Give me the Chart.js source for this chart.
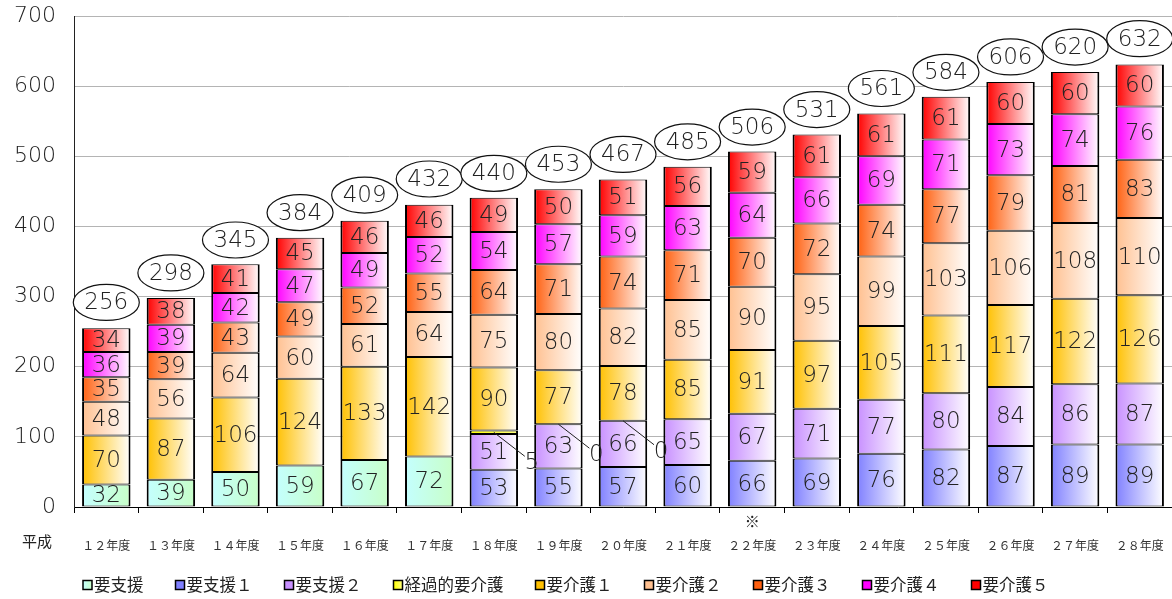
<!DOCTYPE html>
<html>
<head>
<meta charset="utf-8">
<script src="https://cdn.jsdelivr.net/npm/chart.js@4.4.0/dist/chart.umd.min.js"></script>
<style>
  html, body { margin: 0; padding: 0; background: #fff; }
  canvas { display: block; }
</style>
</head>
<body>
<canvas id="careChart" width="1172" height="599"></canvas>
<script>
// Data
const years = ['１２年度', '１３年度', '１４年度', '１５年度', '１６年度', '１７年度', '１８年度', '１９年度', '２０年度',
               '２１年度', '２２年度', '２３年度', '２４年度', '２５年度', '２６年度', '２７年度', '２８年度'];
const yTicks = [0, 100, 200, 300, 400, 500, 600, 700];

const shien   = [32, 39, 50, 59, 67, 72, null, null, null, null, null, null, null, null, null, null, null];
const shien1  = [null, null, null, null, null, null, 53, 55, 57, 60, 66, 69, 76, 82, 87, 89, 89];
const shien2  = [null, null, null, null, null, null, 51, 63, 66, 65, 67, 71, 77, 80, 84, 86, 87];
const keika   = [null, null, null, null, null, null, 5, 0, 0, null, null, null, null, null, null, null, null];
const kaigo1  = [70, 87, 106, 124, 133, 142, 90, 77, 78, 85, 91, 97, 105, 111, 117, 122, 126];
const kaigo2  = [48, 56, 64, 60, 61, 64, 75, 80, 82, 85, 90, 95, 99, 103, 106, 108, 110];
const kaigo3  = [35, 39, 43, 49, 52, 55, 64, 71, 74, 71, 70, 72, 74, 77, 79, 81, 83];
const kaigo4  = [36, 39, 42, 47, 49, 52, 54, 57, 59, 63, 64, 66, 69, 71, 73, 74, 76];
const kaigo5  = [34, 38, 41, 45, 46, 46, 49, 50, 51, 56, 59, 61, 61, 61, 60, 60, 60];
const totals  = [256, 298, 345, 384, 409, 432, 440, 453, 467, 485, 506, 531, 561, 584, 606, 620, 632];

const seriesNames = ['要支援', '要支援１', '要支援２', '経過的要介護', '要介護１', '要介護２', '要介護３', '要介護４', '要介護５'];
const seriesData = [shien, shien1, shien2, keika, kaigo1, kaigo2, kaigo3, kaigo4, kaigo5];
const seriesColors = [
    ['#c4ffff', '#c8ffc8'],
    ['#8080ff', '#ffffff'],
    ['#c890ff', '#ffffff'],
    ['#ffff00', '#ffff80'],
    ['#ffc000', '#ffffff'],
    ['#ffc090', '#ffffff'],
    ['#ff6010', '#ffffff'],
    ['#ff00ff', '#ffffff'],
    ['#ff0000', '#ffffff']
];
const KEIKA_INDEX = 3;
const BAR_RATIO = 0.75;

const numFont = '"DejaVu Sans", sans-serif';
const jpFont = '"Noto Sans CJK JP", sans-serif';

// Horizontal gradient across each bar
function barGradient(context, colors) {
    const chart = context.chart;
    const area = chart.chartArea;
    if (!area || context.dataIndex === undefined) return colors[0];
    const cx = chart.scales.x.getPixelForValue(context.dataIndex);
    const half = (area.right - area.left) / years.length * BAR_RATIO / 2;
    const g = chart.ctx.createLinearGradient(cx - half, 0, cx + half, 0);
    g.addColorStop(0, colors[0]);
    g.addColorStop(1, colors[1]);
    return g;
}

// Values inside segments, leader labels and total ellipses
const valueLabels = {
    id: 'valueLabels',
    afterDatasetsDraw(chart) {
        const ctx = chart.ctx;
        ctx.save();
        ctx.font = '200 23px ' + numFont;
        ctx.fillStyle = '#222';
        ctx.textAlign = 'center';
        ctx.textBaseline = 'middle';

        chart.data.datasets.forEach((ds, di) => {
            const meta = chart.getDatasetMeta(di);
            meta.data.forEach((bar, i) => {
                const v = ds.data[i];
                if (v === null || v === undefined) return;
                const midY = (bar.y + bar.base) / 2;
                if (di === KEIKA_INDEX) {
                    ctx.strokeStyle = '#222';
                    ctx.lineWidth = 1;
                    ctx.beginPath();
                    ctx.moveTo(bar.x, midY);
                    ctx.lineTo(bar.x + 31, midY + 24);
                    ctx.stroke();
                    ctx.fillText(String(v), bar.x + 38, midY + 31);
                    return;
                }
                ctx.fillText(String(v), bar.x, midY + 1);
            });
        });

        // totals in ellipses
        totals.forEach((t, i) => {
            const x = chart.scales.x.getPixelForValue(i);
            const y = chart.scales.y.getPixelForValue(t) - 25;
            ctx.beginPath();
            ctx.ellipse(x, y, 33, 18, 0, 0, Math.PI * 2);
            ctx.fillStyle = '#fff';
            ctx.fill();
            ctx.strokeStyle = '#111';
            ctx.lineWidth = 1.2;
            ctx.stroke();
            ctx.fillStyle = '#222';
            ctx.fillText(String(t), x, y + 1);
        });
        ctx.restore();
    }
};

// Bottom legend and extra captions
const captions = {
    id: 'captions',
    afterDraw(chart) {
        const ctx = chart.ctx;
        ctx.save();
        ctx.textBaseline = 'middle';
        ctx.fillStyle = '#222';

        ctx.font = '15px ' + jpFont;
        ctx.textAlign = 'left';
        ctx.fillText('平成', 22, 541);
        ctx.textAlign = 'center';
        ctx.fillText('※', chart.scales.x.getPixelForValue(10), 521);

        ctx.textAlign = 'left';
        ctx.font = '16.5px ' + jpFont;
        let x = 83;
        const y = 585;
        seriesNames.forEach((name, i) => {
            const g = ctx.createLinearGradient(x, 0, x + 9, 0);
            g.addColorStop(0, seriesColors[i][0]);
            g.addColorStop(1, seriesColors[i][1] === '#ffffff' ? seriesColors[i][0] : seriesColors[i][1]);
            ctx.fillStyle = g;
            ctx.fillRect(x, y - 4.5, 9, 9);
            ctx.strokeStyle = '#000';
            ctx.lineWidth = 1.5;
            ctx.strokeRect(x, y - 4.5, 9, 9);
            ctx.fillStyle = '#222';
            ctx.fillText(name, x + 11, y);
            x += 11 + ctx.measureText(name).width + 32;
        });
        ctx.restore();
    }
};

function initChart() {
    const ctx = document.getElementById('careChart').getContext('2d');
    new Chart(ctx, {
        type: 'bar',
        data: {
            labels: years,
            datasets: seriesNames.map((name, i) => ({
                label: name,
                data: seriesData[i],
                backgroundColor: (c) => barGradient(c, seriesColors[i]),
                borderColor: '#000',
                borderWidth: { top: 1, bottom: 1, left: 2, right: 2 },
                borderSkipped: false,
                barPercentage: BAR_RATIO,
                categoryPercentage: 1
            }))
        },
        options: {
            responsive: false,
            animation: false,
            devicePixelRatio: 1,
            layout: { padding: { top: 16, right: 0, bottom: 0, left: 0 } },
            plugins: {
                legend: { display: false },
                tooltip: { enabled: false }
            },
            scales: {
                x: {
                    stacked: true,
                    afterFit: (s) => { s.height = 92; s.paddingLeft = 0; s.paddingRight = 0; },
                    grid: {
                        offset: true,
                        drawOnChartArea: false,
                        tickLength: 6,
                        color: '#000'
                    },
                    border: { color: '#000', width: 1 },
                    ticks: {
                        color: '#333',
                        font: { family: jpFont, size: 12 },
                        padding: 25,
                        maxRotation: 0,
                        autoSkip: false
                    }
                },
                y: {
                    stacked: true,
                    min: 0,
                    max: 700,
                    afterFit: (s) => { s.width = 74; s.paddingTop = 0; s.paddingBottom = 0; },
                    afterBuildTicks: (s) => { s.ticks = yTicks.map(v => ({ value: v })); },
                    grid: { color: '#b4b4b4', drawTicks: false },
                    border: { color: '#222', width: 1 },
                    ticks: {
                        color: '#222',
                        font: { family: numFont, size: 22, weight: '200' },
                        padding: 18
                    }
                }
            }
        },
        plugins: [valueLabels, captions]
    });
}

initChart();
</script>
</body>
</html>
